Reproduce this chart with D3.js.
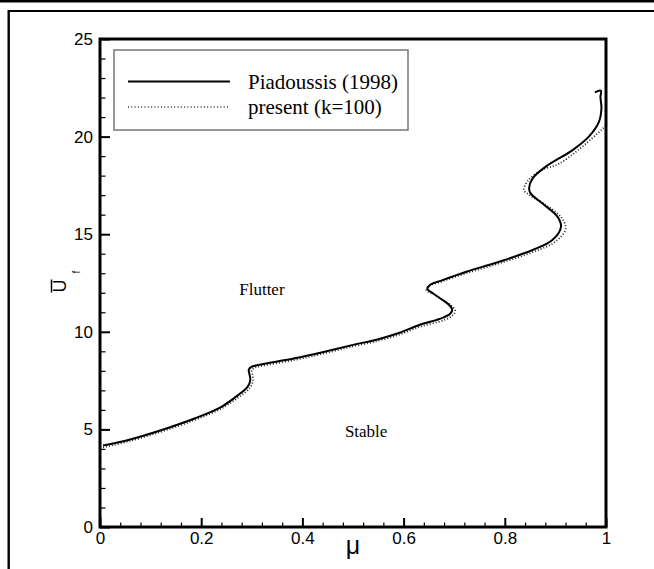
<!DOCTYPE html>
<html>
<head>
<meta charset="utf-8">
<script src="https://cdn.jsdelivr.net/npm/d3@7"></script>
<style>
  html, body { margin: 0; padding: 0; background: #fff; }
  svg { display: block; }
</style>
</head>
<body>
<svg id="chart" width="654" height="569"></svg>
<script>
// ---- data (mu, U_f) ----
const paidoussisMu = [0.006,0.056,0.122,0.188,0.240,0.273,0.292,0.297,0.295,0.294,0.299,0.313,0.385,0.444,0.500,0.550,0.592,0.631,0.677,0.693,0.696,0.689,0.677,0.657,0.647,0.652,0.677,0.724,0.789,0.855,0.894,0.911,0.904,0.874,0.851,0.848,0.855,0.881,0.934,0.966,0.986,0.991,0.989,0.990,0.978];
const paidoussisU  = [4.17,4.46,4.97,5.57,6.16,6.76,7.19,7.53,7.87,8.05,8.20,8.30,8.64,8.98,9.33,9.62,9.95,10.35,10.71,10.95,11.15,11.40,11.63,11.99,12.19,12.40,12.65,13.08,13.59,14.19,14.70,15.38,15.90,16.58,17.09,17.35,17.86,18.46,19.31,20.00,20.76,21.45,22.04,22.35,22.27];

const presentMu = [0.006,0.056,0.122,0.188,0.240,0.275,0.296,0.302,0.301,0.300,0.305,0.318,0.385,0.444,0.500,0.550,0.592,0.631,0.680,0.698,0.702,0.694,0.680,0.660,0.645,0.649,0.675,0.724,0.789,0.857,0.900,0.920,0.913,0.880,0.848,0.838,0.846,0.876,0.905,0.945,0.994,1.012];
const presentU  = [4.08,4.38,4.89,5.49,6.07,6.67,7.12,7.48,7.85,8.02,8.15,8.24,8.56,8.90,9.25,9.54,9.86,10.25,10.60,10.86,11.08,11.35,11.58,11.92,12.12,12.33,12.57,13.00,13.50,14.10,14.62,15.25,15.82,16.52,17.02,17.25,17.75,18.32,18.58,19.31,20.42,20.90];

const xMajorTicks = [0, 0.2, 0.4, 0.6, 0.8, 1];
const xTickLabels = ["0", "0.2", "0.4", "0.6", "0.8", "1"];
const yMajorTicks = [0, 5, 10, 15, 20, 25];
const seriesNames = ["Piadoussis (1998)", "present (k=100)"];
const regionLabels = ["Flutter", "Stable"];

// ---- layout ----
const svg = d3.select("#chart");
const L = 100, R = 606, T = 39, B = 527;
const x = d3.scaleLinear().domain([0, 1]).range([L, R]);
const y = d3.scaleLinear().domain([0, 25]).range([B, T]);

// outer frame (cropped figure border)
svg.append("line").attr("x1", 0).attr("x2", 654).attr("y1", 1.2).attr("y2", 1.2)
  .attr("stroke", "#000").attr("stroke-width", 2.6);
svg.append("line").attr("x1", 8.7).attr("x2", 654).attr("y1", 11).attr("y2", 11)
  .attr("stroke", "#000").attr("stroke-width", 2);
svg.append("line").attr("x1", 8.7).attr("x2", 8.7).attr("y1", 10).attr("y2", 569)
  .attr("stroke", "#000").attr("stroke-width", 2.4);

// clip
svg.append("clipPath").attr("id", "plotclip").append("rect")
  .attr("x", L).attr("y", T).attr("width", R - L).attr("height", B - T);

const tickFont = "'Liberation Sans', Arial, sans-serif";

// minor ticks
const xMinor = d3.range(0, 1.0001, 0.04).filter(v => !xMajorTicks.some(m => Math.abs(m - v) < 1e-6));
const yMinor = d3.range(0, 25.0001, 1).filter(v => v % 5 !== 0);

svg.append("g").attr("transform", `translate(0,${B})`)
  .call(d3.axisBottom(x).tickValues(xMinor).tickSize(-4.5).tickFormat(""))
  .call(g => g.select(".domain").remove())
  .call(g => g.selectAll("line").attr("stroke-width", 1.2));
svg.append("g").attr("transform", `translate(${L},0)`)
  .call(d3.axisLeft(y).tickValues(yMinor).tickSize(-5.5).tickFormat(""))
  .call(g => g.select(".domain").remove())
  .call(g => g.selectAll("line").attr("stroke-width", 1.2));

// major axes
svg.append("g").attr("transform", `translate(0,${B})`)
  .call(d3.axisBottom(x).tickValues(xMajorTicks).tickSize(-9).tickPadding(5)
    .tickFormat((d, i) => xTickLabels[i]))
  .call(g => g.select(".domain").remove())
  .call(g => g.selectAll("line").attr("stroke-width", 2))
  .call(g => g.selectAll("text").attr("font-family", tickFont).attr("font-size", 17).attr("fill", "#000"));
svg.append("g").attr("transform", `translate(${L},0)`)
  .call(d3.axisLeft(y).tickValues(yMajorTicks).tickSize(-10).tickPadding(7))
  .call(g => g.select(".domain").remove())
  .call(g => g.selectAll("line").attr("stroke-width", 2))
  .call(g => g.selectAll("text").attr("font-family", tickFont).attr("font-size", 17).attr("fill", "#000"));

// curves
const line = d3.line().x(d => x(d[0])).y(d => y(d[1])).curve(d3.curveCatmullRom.alpha(0.5));
const pData = paidoussisMu.map((m, i) => [m, paidoussisU[i]]);
const cData = presentMu.map((m, i) => [m, presentU[i]]);

const plot = svg.append("g").attr("clip-path", "url(#plotclip)");
plot.append("path").datum(cData).attr("d", line)
  .attr("fill", "none").attr("stroke", "#222").attr("stroke-width", 1.8)
  .attr("stroke-dasharray", "1,2");
plot.append("path").datum(pData).attr("d", line)
  .attr("fill", "none").attr("stroke", "#000").attr("stroke-width", 2);

// plot frame
svg.append("rect").attr("x", L).attr("y", T).attr("width", R - L).attr("height", B - T)
  .attr("fill", "none").attr("stroke", "#000").attr("stroke-width", 3);

// axis titles
svg.append("text").attr("x", (L + R) / 2).attr("y", 554).attr("text-anchor", "middle")
  .attr("font-family", tickFont).attr("font-size", 25).text("μ");

const yt = svg.append("g").attr("transform", "translate(60,286) rotate(-90)");
yt.append("text").attr("x", 0).attr("y", 6).attr("text-anchor", "middle")
  .attr("font-family", tickFont).attr("font-size", 18).text("U");
yt.append("line").attr("x1", -6.5).attr("x2", 6.5).attr("y1", -8.5).attr("y2", -8.5)
  .attr("stroke", "#000").attr("stroke-width", 1.5);
yt.append("text").attr("x", 14).attr("y", 20).attr("text-anchor", "middle")
  .attr("font-family", tickFont).attr("font-size", 10).text("f");

// legend
const serif = "'Liberation Serif', 'Times New Roman', serif";
const lg = svg.append("g");
lg.append("rect").attr("x", 114).attr("y", 50).attr("width", 294).attr("height", 80)
  .attr("fill", "#fff").attr("stroke", "#777").attr("stroke-width", 1.5);
lg.append("line").attr("x1", 128).attr("x2", 230).attr("y1", 81.5).attr("y2", 81.5)
  .attr("stroke", "#000").attr("stroke-width", 2);
lg.append("line").attr("x1", 128).attr("x2", 230).attr("y1", 107).attr("y2", 107)
  .attr("stroke", "#333").attr("stroke-width", 1.6).attr("stroke-dasharray", "1,2.3");
lg.append("text").attr("x", 248).attr("y", 88.5).attr("font-family", serif).attr("font-size", 21)
  .text(seriesNames[0]);
lg.append("text").attr("x", 248).attr("y", 113.5).attr("font-family", serif).attr("font-size", 21)
  .text(seriesNames[1]);

// region labels
svg.append("text").attr("x", x(0.32)).attr("y", y(11.9)).attr("text-anchor", "middle")
  .attr("font-family", serif).attr("font-size", 17).text(regionLabels[0]);
svg.append("text").attr("x", x(0.526)).attr("y", y(4.6)).attr("text-anchor", "middle")
  .attr("font-family", serif).attr("font-size", 17).text(regionLabels[1]);
</script>
</body>
</html>
